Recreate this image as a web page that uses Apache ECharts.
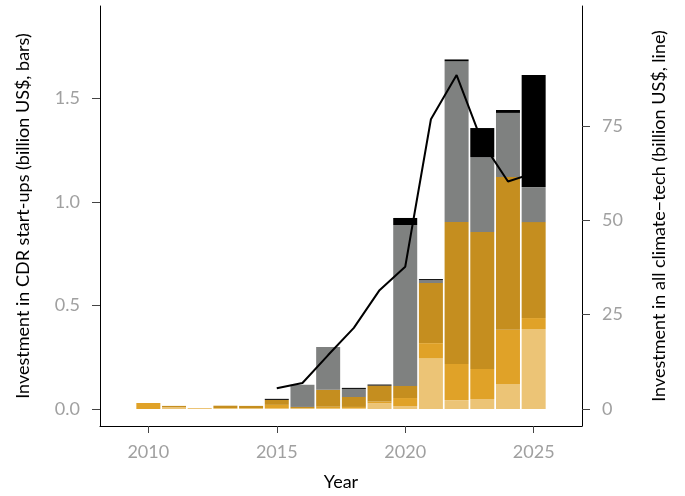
<!DOCTYPE html>
<html>
<head>
<meta charset="utf-8">
<script src="https://cdn.jsdelivr.net/npm/echarts@6/dist/echarts.min.js"></script>
<style>
  html, body { margin: 0; padding: 0; background: #fff; }
  #main { width: 685px; height: 496px; }
</style>
</head>
<body>
<div id="main"></div>
<script>
// years of the bars
var years = ['2010', '2011', '2012', '2013', '2014', '2015', '2016', '2017', '2018', '2019', '2020', '2021', '2022', '2023', '2024', '2025'];

// stacked layers, bottom to top (billion US$)
var lightVals  = [0, 0.009, 0.005, 0.003, 0.004, 0.004, 0.004, 0.005, 0.004, 0.028, 0.014, 0.246, 0.043, 0.048, 0.121, 0.386];
var mediumVals = [0.029, 0, 0, 0.002, 0, 0.016, 0, 0.006, 0.006, 0.008, 0.039, 0.072, 0.174, 0.145, 0.261, 0.053];
var darkVals   = [0, 0.006, 0, 0.011, 0.011, 0.024, 0.006, 0.082, 0.048, 0.077, 0.058, 0.290, 0.685, 0.661, 0.738, 0.463];
var grayVals   = [0, 0, 0, 0, 0, 0, 0.107, 0.206, 0.039, 0, 0.777, 0.014, 0.777, 0.362, 0.309, 0.169];
var blackVals  = [0, 0, 0, 0, 0, 0.005, 0, 0, 0.005, 0.005, 0.034, 0.005, 0.008, 0.140, 0.014, 0.541];

// all climate-tech investment (billion US$, line)
var lineYears = [2015, 2016, 2017, 2018, 2019, 2020, 2021, 2022, 2023, 2024, 2025];
var lineVals  = [5.5, 6.9, 14.3, 21.5, 31.5, 37.7, 76.8, 88.5, 70.6, 60.3, 62.5];

// tick labels
var xTicks = [2010, 2015, 2020, 2025];
var leftTicks = [0, 0.5, 1, 1.5];
var rightTicks = [0, 25, 50, 75];

var layerColors = ['#ECC476', '#E0A228', '#C58E1F', '#7F8180', '#000000'];
var layers = [lightVals, mediumVals, darkVals, grayVals, blackVals];

var chart = echarts.init(document.getElementById('main'));

// bars live in a second grid whose category bands line up with the year axis
var series = layers.map(function (vals, k) {
  return {
    type: 'bar',
    stack: 'cdr',
    barWidth: 24,
    xAxisIndex: 1,
    yAxisIndex: 2,
    itemStyle: { color: layerColors[k] },
    data: vals
  };
});

series.push({
  type: 'line',
  xAxisIndex: 0,
  yAxisIndex: 1,
  symbol: 'none',
  z: 10,
  lineStyle: { color: '#000', width: 2 },
  data: lineYears.map(function (y, i) { return [y, lineVals[i]]; })
});

var labelFont = { color: '#A0A0A0', fontFamily: 'Lato', fontSize: 18 };
var nameFont = { color: '#000', fontFamily: 'Lato', fontSize: 18 };

option = {
  backgroundColor: '#FFFFFF',
  animation: false,
  grid: [
    { left: 100, right: 103, top: 6, bottom: 70 },
    { left: 135.5, right: 138.5, top: 6, bottom: 70 }
  ],
  xAxis: [
    {
      type: 'value',
      gridIndex: 0,
      min: 2008.12,
      max: 2026.88,
      name: 'Year',
      nameLocation: 'middle',
      nameGap: 47,
      nameTextStyle: nameFont,
      splitLine: { show: false },
      axisLine: { onZero: false, lineStyle: { color: '#000', width: 1 } },
      axisTick: { show: true, length: 7, customValues: xTicks, lineStyle: { color: '#444' } },
      axisLabel: Object.assign({ margin: 17, customValues: xTicks, formatter: function (v) { return String(v); } }, labelFont)
    },
    {
      type: 'category',
      gridIndex: 1,
      data: years,
      show: false
    }
  ],
  yAxis: [
    {
      type: 'value',
      gridIndex: 0,
      min: -0.082,
      max: 1.945,
      position: 'left',
      name: 'Investment in CDR start-ups (billion US$, bars)',
      nameLocation: 'middle',
      nameGap: 68,
      nameTextStyle: nameFont,
      splitLine: { show: false },
      axisLine: { show: true, onZero: false, lineStyle: { color: '#000', width: 1 } },
      axisTick: { show: true, length: 8, customValues: leftTicks, lineStyle: { color: '#444' } },
      axisLabel: Object.assign({ margin: 20, customValues: leftTicks, formatter: function (v) { return v.toFixed(1); } }, labelFont)
    },
    {
      type: 'value',
      gridIndex: 0,
      min: -4.50,
      max: 106.8,
      position: 'right',
      name: 'Investment in all climate\u2212tech (billion US$, line)',
      nameLocation: 'middle',
      nameGap: 68,
      nameRotate: 90,
      nameTextStyle: nameFont,
      splitLine: { show: false },
      axisLine: { show: true, onZero: false, lineStyle: { color: '#000', width: 1 } },
      axisTick: { show: true, length: 8, customValues: rightTicks, lineStyle: { color: '#444' } },
      axisLabel: Object.assign({ margin: 20, customValues: rightTicks, formatter: function (v) { return String(v); } }, labelFont)
    },
    {
      type: 'value',
      gridIndex: 1,
      min: -0.082,
      max: 1.945,
      show: false
    }
  ],
  series: series
};

chart.setOption(option);
window.addEventListener("resize", function () {
  chart.resize();
});
</script>
</body>
</html>
